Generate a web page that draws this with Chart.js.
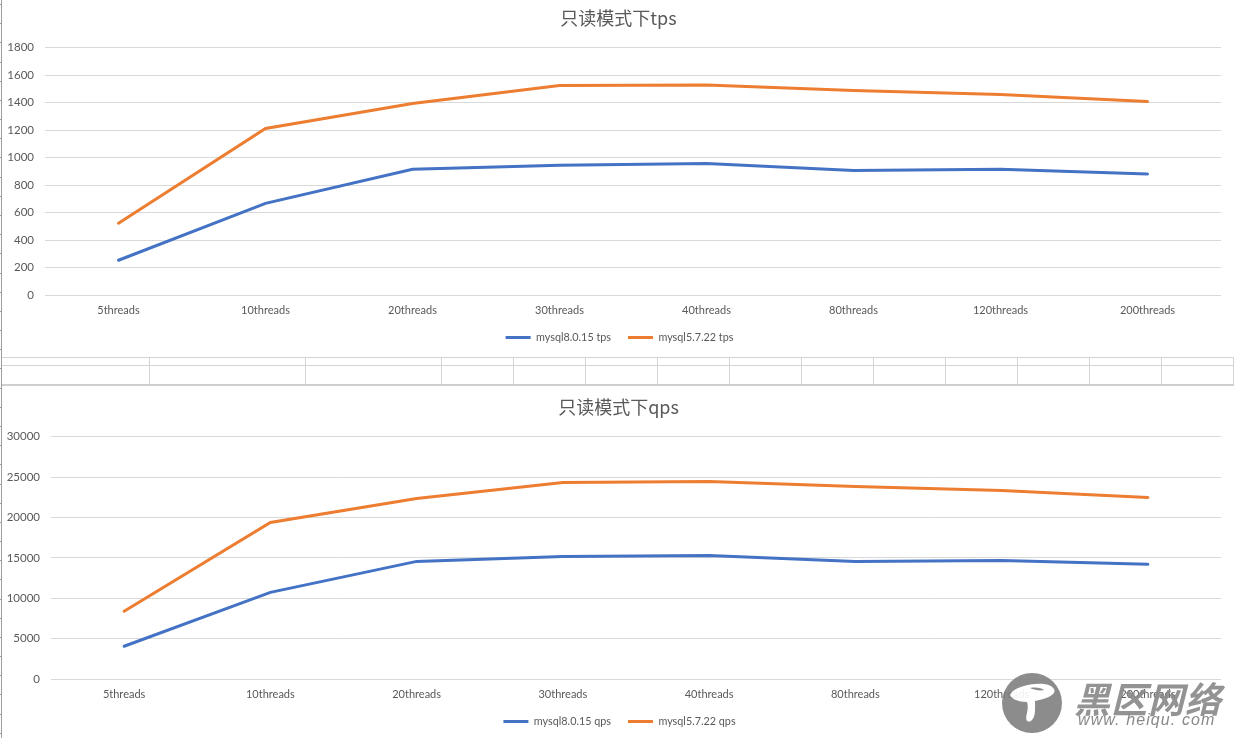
<!DOCTYPE html>
<html lang="zh">
<head>
<meta charset="utf-8">
<title>只读模式</title>
<script src="https://cdn.jsdelivr.net/npm/chart.js@4/dist/chart.umd.min.js"></script>
<style>
  html, body { margin: 0; padding: 0; background: #fff; overflow: hidden; }
  #page { position: relative; width: 1234px; height: 738px; overflow: hidden; }
  canvas { position: absolute; left: 0; }
  .g { position: absolute; background: #d4d4d4; }
  #logo { position: absolute; left: 1002px; top: 673px; width: 60px; height: 60px; opacity: .9; }
  #wm1 { position: absolute; left: 1074px; top: 671px; font: italic bold 36px "Noto Sans CJK SC"; color: #8a8a8a; letter-spacing: 1px; white-space: nowrap; opacity: .92; }
  #wm2 { position: absolute; left: 1078px; top: 711px; font: italic 16px "Liberation Sans"; color: #8a8a8a; letter-spacing: 1.1px; white-space: nowrap; }
</style>
</head>
<body>
<div id="page">
  <canvas id="tps-chart" style="top:0"></canvas>
  <canvas id="qps-chart" style="top:385px"></canvas>
  <div id="sheet"></div>
  <svg id="logo" viewBox="0 0 60 60">
    <circle cx="30" cy="30" r="30" fill="#808080"/>
    <path d="M8 22 C12 14 28 10 42 11 C50 12 54 16 52 20 C48 25 38 27 33 28 C33 36 34 44 29 48 C25 50 23 47 25 40 C26 35 26 32 25 29 C16 29 10 26 8 22 Z" fill="#fff"/>
    <path d="M28 15 C34 14 40 15 42 17 C38 18 32 17 28 15 Z" fill="#808080"/>
  </svg>
  <div id="wm1">黑区网络</div>
  <div id="wm2">www. heiqu. com</div>
</div>
<script>
  const threads = ['5threads', '10threads', '20threads', '30threads', '40threads', '80threads', '120threads', '200threads'];

  const tps80 = [254, 668, 915, 944, 958, 907, 915, 882];
  const tps57 = [523, 1212, 1393, 1524, 1528, 1488, 1459, 1408];
  const qps80 = [4074, 10740, 14570, 15185, 15300, 14570, 14690, 14200];
  const qps57 = [8395, 19380, 22345, 24320, 24440, 23830, 23330, 22470];

  const BLUE = '#4472c4';
  const ORANGE = '#ed7d31';
  const TEXT = '#595959';
  const GRID = '#d9d9d9';
  const FONT = 'Lato';

  // title and legend sit centred on the plot area, not on the whole canvas
  const centreOnPlot = {
    id: 'centreOnPlot',
    afterLayout(chart, args, opts) {
      chart.titleBlock.left += opts.title;
      chart.titleBlock.right += opts.title;
      chart.legend.left += opts.legend;
      chart.legend.right += opts.legend;
    },
  };

  function makeChart(id, height, cfg) {
    const canvas = document.getElementById(id);
    canvas.style.width = '1234px';
    canvas.style.height = height + 'px';
    canvas.width = 1234;
    canvas.height = height;
    const line = (label, data, color) => ({
      label: label,
      data: data,
      borderColor: color,
      backgroundColor: color,
      borderWidth: 3,
      pointRadius: 0,
      fill: false,
      tension: 0,
      borderCapStyle: 'round',
    });
    return new Chart(canvas.getContext('2d'), {
      type: 'line',
      plugins: [centreOnPlot],
      data: {
        labels: threads,
        datasets: [line(cfg.names[0], cfg.series[0], BLUE), line(cfg.names[1], cfg.series[1], ORANGE)],
      },
      options: {
        responsive: false,
        animation: false,
        devicePixelRatio: 1,
        layout: { padding: { left: 0, right: 13, top: 0, bottom: cfg.bottom } },
        plugins: {
          centreOnPlot: { title: 8, legend: 9 },
          tooltip: { enabled: false },
          title: {
            display: true,
            text: cfg.title,
            color: TEXT,
            font: { family: '"Noto Sans CJK SC"', size: 18, weight: '400' },
            padding: { top: cfg.titleTop, bottom: cfg.titleBottom },
          },
          legend: {
            position: 'bottom',
            labels: { boxWidth: 25, boxHeight: 0, color: TEXT, padding: 17, font: { family: FONT, size: 10.8 } },
          },
        },
        scales: {
          x: {
            offset: true,
            grid: { display: false },
            border: { display: false },
            ticks: { color: TEXT, font: { family: FONT, size: 11 }, maxRotation: 0, padding: 1 },
            afterFit: (s) => { s.height = 20; },
          },
          y: {
            min: 0,
            max: cfg.max,
            grid: { color: GRID, lineWidth: 1, drawTicks: false },
            border: { display: false },
            ticks: { stepSize: cfg.step, color: TEXT, font: { family: FONT, size: 11.5 }, padding: 11, callback: (v) => String(v) },
            afterFit: (s) => { s.width = cfg.yWidth; },
          },
        },
      },
    });
  }

  makeChart('tps-chart', 357, {
    title: '只读模式下tps',
    names: ['mysql8.0.15 tps', 'mysql5.7.22 tps'],
    series: [tps80, tps57],
    max: 1800,
    step: 200,
    yWidth: 45,
    bottom: 4,
    titleTop: 7,
    titleBottom: 19,
  });

  makeChart('qps-chart', 353, {
    title: '只读模式下qps',
    names: ['mysql8.0.15 qps', 'mysql5.7.22 qps'],
    series: [qps80, qps57],
    max: 30000,
    step: 5000,
    yWidth: 51,
    bottom: 1,
    titleTop: 11,
    titleBottom: 19,
  });

  // worksheet cell borders showing between the two charts
  const sheet = document.getElementById('sheet');
  function rule(x, y, w, h, color) {
    const d = document.createElement('div');
    d.className = 'g';
    d.style.cssText = `left:${x}px;top:${y}px;width:${w}px;height:${h}px;` + (color ? `background:${color}` : '');
    sheet.appendChild(d);
  }
  rule(2, 357, 1232, 1);
  rule(2, 365, 1232, 1);
  rule(2, 384, 1232, 2, '#cfcfcf');
  [149, 305, 441, 513, 585, 657, 729, 801, 873, 945, 1017, 1089, 1161, 1233].forEach((x) => rule(x, 357, 1, 27));
  rule(1, 0, 1, 738, '#9e9e9e');
  for (let y = 4; y < 738; y += 19.18) rule(0, Math.round(y), 2, 1, '#9e9e9e');
</script>
</body>
</html>
